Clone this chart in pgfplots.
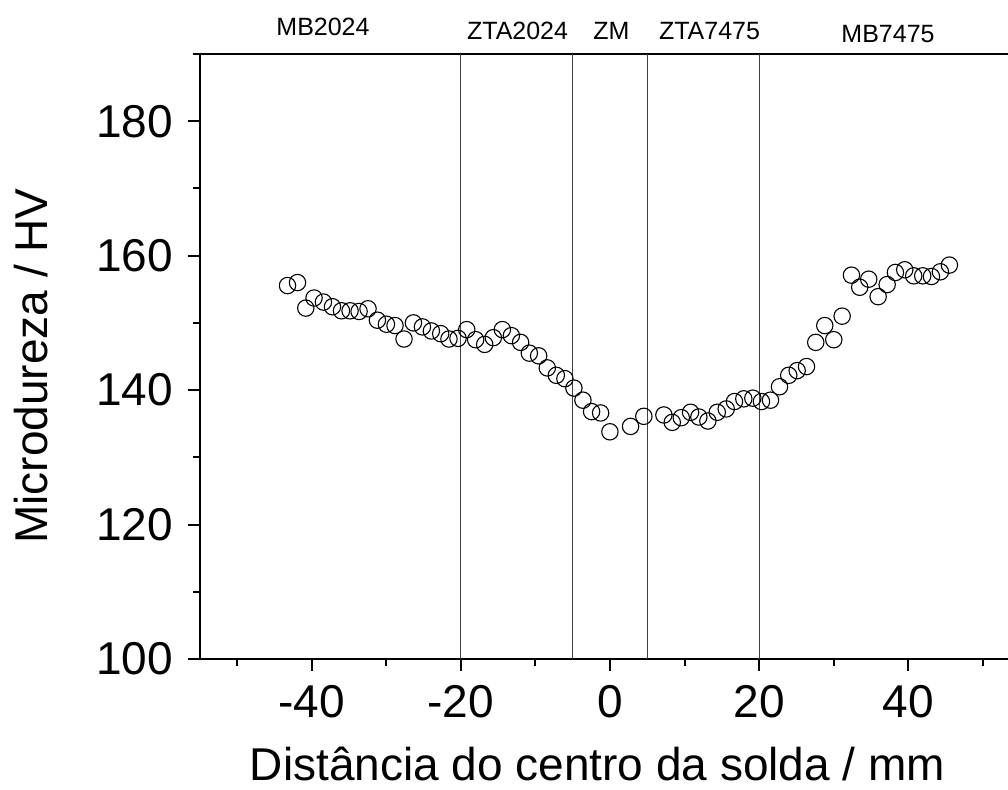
\documentclass[border=0pt]{standalone}
\usepackage{fontspec}
\setmainfont{Liberation Sans}
\usepackage{pgfplots}
\pgfplotsset{compat=1.18}
\begin{document}
\begin{tikzpicture}
\begin{axis}[
  scale only axis, width=410pt, height=302.5pt,
  xmin=-55, xmax=55, ymin=100, ymax=190,
  xtick={-40,-20,0,20,40}, minor xtick={-50,-30,-10,10,30,50},
  ytick={100,120,...,180}, minor ytick={110,130,...,190},
  xtick pos=bottom, ytick pos=left,
  tick align=outside,
  major tick length=6pt, minor tick length=3.5pt,
  axis line style={line width=1pt},
  every tick/.style={black, line width=1pt},
  /pgf/number format/assume math mode=true,
  ticklabel style={font=\fontsize{23}{27}\selectfont},
  xticklabel style={yshift=-3.5pt},
  yticklabel style={xshift=-4pt},
  label style={font=\fontsize{23}{27}\selectfont},
  xlabel={Distância do centro da solda / mm},
  ylabel={Microdureza / HV},
  xlabel style={at={(axis description cs:0.4848,-0.2010)}, anchor=base},
  ylabel style={at={(axis description cs:-0.1860,0.4843)}, anchor=base},
  clip=false,
]
\draw[black!75, line width=0.5pt] (axis cs:-20,100) -- (axis cs:-20,190);
\draw[black!75, line width=0.5pt] (axis cs:-5,100) -- (axis cs:-5,190);
\draw[black!75, line width=0.5pt] (axis cs:5,100) -- (axis cs:5,190);
\draw[black!75, line width=0.5pt] (axis cs:20,100) -- (axis cs:20,190);
\addplot[only marks, mark=o, mark size=4.1pt, mark options={black, line width=0.55pt, fill=white}] coordinates {
(-43.26,155.55) (-41.92,156.0) (-40.81,152.2) (-39.70,153.7) (-38.44,153.1)
(-37.23,152.4) (-36.02,151.8) (-34.87,151.8) (-33.66,151.7) (-32.46,152.1)
(-31.20,150.4) (-29.99,149.8) (-28.84,149.6) (-27.63,147.6) (-26.37,150.0)
(-25.16,149.4) (-23.96,148.8) (-22.71,148.4) (-21.60,147.6) (-20.39,147.7)
(-19.22,149.0) (-18.02,147.5) (-16.81,146.8) (-15.65,147.8) (-14.44,149.0)
(-13.23,148.1) (-11.99,147.1) (-10.82,145.5) (-9.57,145.1) (-8.41,143.3)
(-7.20,142.2) (-6.05,141.7) (-4.84,140.3) (-3.63,138.5) (-2.47,136.8)
(-1.26,136.6) (-0.01,133.8) (2.76,134.6) (4.54,136.1) (7.23,136.3)
(8.35,135.2) (9.56,135.9) (10.81,136.7) (11.92,136.0) (13.13,135.4)
(14.39,136.7) (15.59,137.2) (16.70,138.3) (17.95,138.7) (19.16,138.8)
(20.32,138.3) (21.53,138.5) (22.74,140.5) (23.98,142.2) (25.11,142.9)
(26.36,143.5) (27.60,147.1) (28.81,149.6) (30.02,147.5) (31.14,151.0)
(32.39,157.1) (33.50,155.3) (34.71,156.5) (35.97,153.9) (37.18,155.7)
(38.29,157.5) (39.54,157.9) (40.74,157.0) (41.95,157.0) (43.12,156.9)
(44.32,157.6) (45.53,158.6)
};
\node[font=\fontsize{12.5}{15}\selectfont, anchor=base, yshift=9pt] at (axis cs:-38.5,190) {MB2024};
\node[font=\fontsize{12.5}{15}\selectfont, anchor=base, yshift=7pt] at (axis cs:-12.4,190) {ZTA2024};
\node[font=\fontsize{12.5}{15}\selectfont, anchor=base, yshift=7pt] at (axis cs:0.2,190) {ZM};
\node[font=\fontsize{12.5}{15}\selectfont, anchor=base, yshift=7pt] at (axis cs:13.35,190) {ZTA7475};
\node[font=\fontsize{12.5}{15}\selectfont, anchor=base, yshift=5.6pt] at (axis cs:37.3,190) {MB7475};
\end{axis}
\pgfresetboundingbox
\path[use as bounding box] (-100pt,-65.5pt) rectangle (404pt,329.5pt);
\end{tikzpicture}
\end{document}
